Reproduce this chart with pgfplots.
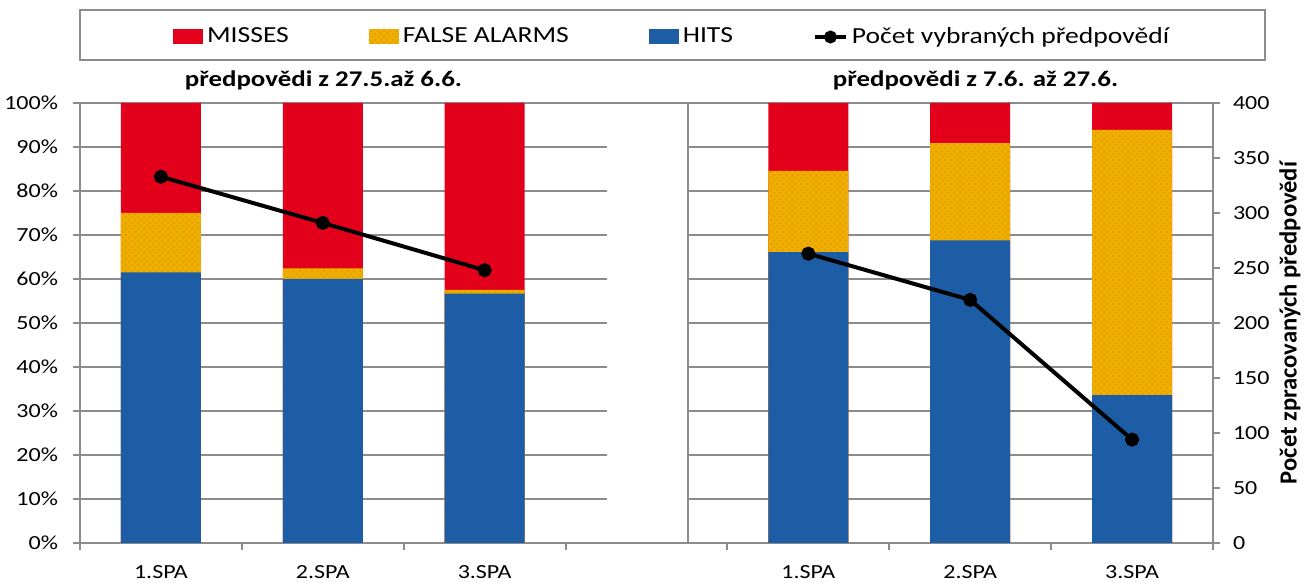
\documentclass[border=0pt]{standalone}
\usepackage{fontspec}
\setmainfont{Carlito}[FakeStretch=1.2]
\newfontfamily\vlabelfont{Carlito}
\usepackage{pgfplots}
\pgfplotsset{compat=1.18}
\usepackage{pgfplotstable}
\usetikzlibrary{patterns}

\definecolor{missred}{HTML}{E2001A}
\definecolor{fayellow}{HTML}{F0AE00}
\definecolor{fadots}{HTML}{D99800}
\definecolor{hitblue}{HTML}{1C5DA6}
\definecolor{gridgray}{HTML}{8C8C8C}

\pgfplotsset{
  barlegend/.style={legend image code/.code={\fill[##1] (0pt,-3.75pt) rectangle (15pt,3.75pt);}},
  linelegend/.style={legend image code/.code={\draw[mark repeat=2, mark phase=2, ##1] plot coordinates {(0pt,0pt) (7.75pt,0pt) (15.5pt,0pt)};}},
}

% shares of each outcome in % (hits, false alarms, misses)
\pgfplotstableread{
x hits fa misses
0 61.5 13.5 25.0
1 60.0 2.4 37.6
2 56.7 0.8 42.5
4 66.1 18.5 15.4
5 68.8 22.1 9.1
6 33.6 60.3 6.1
}\shares

% number of selected forecasts, first period
\pgfplotstableread{
x count
0 333
1 291
2 248
}\countA

% number of selected forecasts, second period
\pgfplotstableread{
x count
4 263
5 221
6 94
}\countB

\begin{document}
\begin{tikzpicture}[font=\fontsize{11.5}{13}\selectfont]
\useasboundingbox (-40pt,-20pt) rectangle (613pt,271.5pt);

\begin{axis}[
  at={(0pt,0pt)}, anchor=south west,
  scale only axis, width=566.5pt, height=220pt,
  xmin=-0.5, xmax=6.5, ymin=0, ymax=100,
  axis x line*=bottom, axis y line*=left,
  axis line style={draw=gridgray, line width=1pt, -},
  tick style={draw=gridgray, line width=1pt},
  tick align=outside, major tick length=3.5pt,
  xtick={-0.5,0.5,...,6.5}, xticklabels={},
  extra x ticks={0,1,2,4,5,6},
  extra x tick labels={1.SPA,2.SPA,3.SPA,1.SPA,2.SPA,3.SPA},
  extra x tick style={major tick length=0pt},
  xticklabel style={font=\fontsize{10}{12}\selectfont, anchor=base, yshift=-18pt},
  ytick={0,10,...,100},
  yticklabel={\pgfmathprintnumber{\tick}\%},
  yticklabel style={font=\fontsize{10}{12}\selectfont, anchor=east, xshift=-4pt},
  /pgf/number format/assume math mode=true,
  legend columns=4,
  legend style={draw=none, fill=none, at={(rel axis cs:0.5235,1.150)}, anchor=center,
    /tikz/every even column/.append style={column sep=38pt},
    font=\fontsize{11.5}{13}\selectfont},
  clip=false,
]
% grid of the two panels
\pgfplotsinvokeforeach{10,20,...,90}{
  \draw[gridgray, line width=1pt] (axis cs:-0.5,#1) -- (axis cs:2.756,#1);
  \draw[gridgray, line width=1pt] (axis cs:3.256,#1) -- (axis cs:6.5,#1);
}
\draw[gridgray, line width=1pt] (axis cs:-0.5,100) -- (axis cs:6.5,100);
\draw[gridgray, line width=1pt] (axis cs:3.256,0) -- (axis cs:3.256,100);
% legend frame
\draw[gridgray, line width=1pt] (rel axis cs:0,1.0977) rectangle (rel axis cs:1.0459,1.2114);

\addplot[ybar, bar width=40pt, bar shift=0pt, fill=missred, draw=none, barlegend]
  table[x=x, y expr=\thisrow{hits}+\thisrow{fa}+\thisrow{misses}] {\shares};
\addlegendentry{MISSES}
\addplot[ybar, bar width=40pt, bar shift=0pt, fill=fayellow, draw=none,
  postaction={pattern=crosshatch dots, pattern color=fadots}, barlegend]
  table[x=x, y expr=\thisrow{hits}+\thisrow{fa}] {\shares};
\addlegendentry{FALSE ALARMS}
\addplot[ybar, bar width=40pt, bar shift=0pt, fill=hitblue, draw=none, barlegend]
  table[x=x, y=hits] {\shares};
\addlegendentry{HITS}
\addlegendimage{black, line width=2pt, mark=*, mark size=2.2pt, linelegend}
\addlegendentry{Počet vybraných předpovědí}

\node[font=\bfseries\fontsize{11.2}{13}\selectfont, anchor=base] at (rel axis cs:0.2149,1.0364) {předpovědi z 27.5.až 6.6.};
\node[font=\bfseries\fontsize{11.2}{13}\selectfont, anchor=base] at (rel axis cs:0.7904,1.0364) {předpovědi z 7.6. až 27.6.};
\end{axis}

\begin{axis}[
  at={(0pt,0pt)}, anchor=south west,
  scale only axis, width=566.5pt, height=220pt,
  xmin=-0.5, xmax=6.5, ymin=0, ymax=400,
  axis x line=none, axis y line*=right,
  axis line style={draw=gridgray, line width=1pt, -},
  tick style={draw=gridgray, line width=1pt},
  tick align=outside, major tick length=3.5pt,
  xtick=\empty,
  ytick={0,50,...,400},
  yticklabel style={font=\fontsize{10}{12}\selectfont, anchor=west, xshift=3pt},
  /pgf/number format/assume math mode=true,
  ylabel={Počet zpracovaných předpovědí},
  every axis y label/.style={at={(rel axis cs:1.068,0.5)}, rotate=90, anchor=center,
    font=\vlabelfont\bfseries\fontsize{12.3}{14}\selectfont},
  clip=false,
]
\addplot[black, line width=2pt, mark=*, mark size=2.5pt] table[x=x, y=count] {\countA};
\addplot[black, line width=2pt, mark=*, mark size=2.5pt] table[x=x, y=count] {\countB};
\end{axis}
\end{tikzpicture}
\end{document}
